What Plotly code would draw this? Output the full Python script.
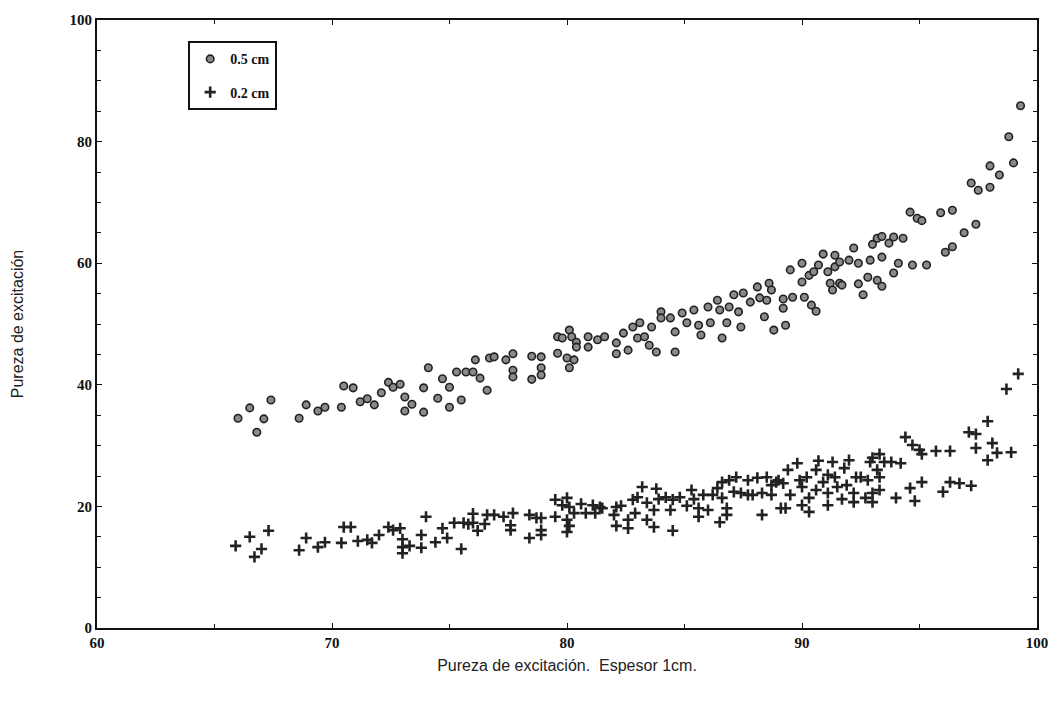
import plotly.graph_objects as go

# 0.5 cm series (circles)
x_05 = [66.0, 66.5, 66.8, 67.1, 67.4, 68.6, 68.9, 69.4, 69.7, 70.4, 70.5, 70.9, 71.2, 71.5, 71.8,
        72.1, 72.4, 72.6, 72.9, 73.1, 73.1, 73.4, 73.9, 73.9, 74.1, 74.5, 74.7, 75.0, 75.0, 75.3,
        75.7, 76.0, 75.5, 76.1, 76.3, 76.6, 76.7, 76.9,
        77.4, 77.7, 77.7, 77.7, 78.5, 78.9, 78.9, 78.9, 78.5, 79.6, 80.0, 80.1, 80.3, 79.6, 79.8,
        80.1, 80.2, 80.4, 80.4, 80.9, 80.9, 81.3, 81.6, 82.1, 82.1, 82.4, 82.6, 82.8, 83.0, 83.1,
        83.3, 83.5, 83.6, 83.8, 84.0, 84.0, 84.4, 84.6, 84.6, 84.9, 85.1, 85.4, 85.6, 85.7, 86.1,
        86.0, 86.4, 86.5, 86.6, 86.8, 86.9, 87.1, 87.3, 87.4, 87.5, 87.8, 88.1, 88.2, 88.4, 88.5,
        88.6, 88.8,
        88.7, 89.3, 89.2, 89.2, 89.6, 90.1, 90.4, 90.6, 89.5, 90.0, 90.0, 90.3, 90.5, 90.7, 90.9,
        91.1, 91.2, 91.3, 91.4, 91.4, 91.6, 91.6, 91.7, 92.0, 92.2, 92.4, 92.4, 92.6, 92.8, 93.2,
        93.4, 92.9, 93.4, 93.0, 93.2, 93.4, 93.7, 93.9, 94.3, 93.9, 94.1, 94.7, 95.3, 94.6, 94.9,
        95.1, 95.9, 96.4, 96.1, 96.4, 96.9, 97.4, 97.2, 97.5, 98.0, 98.0, 98.4, 99.0, 98.8, 99.3]
y_05 = [34.5, 36.2, 32.2, 34.4, 37.5, 34.5, 36.7, 35.7, 36.3, 36.3, 39.8, 39.5, 37.2, 37.7, 36.7,
        38.7, 40.4, 39.6, 40.1, 38.0, 35.7, 36.8, 39.5, 35.5, 42.8, 37.8, 41.0, 39.6, 36.3, 42.1,
        42.1, 42.1, 37.5, 44.1, 41.1, 39.1, 44.4, 44.6,
        44.1, 45.1, 42.4, 41.3, 44.7, 44.6, 42.8, 41.6, 40.9, 45.2, 44.4, 42.8, 44.1, 47.9, 47.7,
        49.0, 47.9, 47.0, 46.2, 47.9, 46.2, 47.4, 47.9, 46.9, 45.1, 48.5, 45.7, 49.5, 47.7, 50.2,
        47.9, 46.5, 49.5, 45.4, 52.0, 51.0, 51.0, 48.7, 45.4, 51.8, 50.2, 52.3, 49.8, 48.2, 50.2,
        52.8, 53.9, 52.3, 47.7, 50.2, 52.8, 54.8, 52.0, 49.5, 55.1, 53.6, 56.1, 54.3, 51.2, 53.9,
        56.7, 49.0,
        55.6, 49.8, 54.1, 52.6, 54.4, 54.4, 53.1, 52.1, 58.9, 60.0, 56.9, 58.0, 58.6, 59.7, 61.5,
        58.6, 56.7, 55.6, 59.4, 61.3, 60.2, 56.7, 56.4, 60.5, 62.5, 60.0, 56.6, 54.8, 57.7, 57.2,
        56.2, 60.5, 61.0, 63.1, 64.1, 64.4, 63.3, 64.3, 64.1, 58.4, 60.0, 59.7, 59.7, 68.4, 67.4,
        67.0, 68.3, 68.7, 61.8, 62.7, 65.0, 66.4, 73.2, 72.0, 72.5, 76.0, 74.5, 76.5, 80.8, 85.9]

# 0.2 cm series (crosses)
x_02 = [65.9, 66.5, 66.7, 67.0, 67.3, 68.6, 68.9, 69.4, 69.7, 70.4, 70.5, 70.8, 71.1, 71.5, 71.7,
        72.0, 72.4, 72.6, 72.9, 73.0, 73.0, 73.0, 73.3, 73.8, 73.8, 74.0, 74.4, 74.7, 74.9, 75.2,
        75.5, 75.6, 75.8, 76.0, 76.0, 76.2, 76.5, 76.6, 76.9,
        77.3, 77.7, 77.6, 77.6, 78.4, 78.7, 78.9, 78.9, 78.9, 78.4, 79.5, 79.5, 79.8, 80.0, 80.1,
        80.0, 80.1, 80.0, 80.3, 80.6, 80.8, 81.1, 81.2, 81.4, 81.5, 82.0, 82.1, 82.3, 82.1, 82.6,
        82.6, 82.8, 83.0, 82.9, 83.2, 83.4, 83.4, 83.7, 83.7, 83.8, 83.9, 84.2, 84.5, 84.4, 84.5,
        84.8, 85.1, 85.3, 85.4, 85.6, 85.6, 85.8, 86.0, 86.2, 86.4, 86.6, 86.6, 86.8, 86.8, 86.5,
        86.9, 87.2, 87.1, 87.4, 87.7, 87.7, 88.1, 87.9, 88.3, 88.5, 88.3, 88.7, 88.9, 89.1, 89.3,
        89.2, 89.4, 89.5, 89.8,
        88.7, 89.0, 89.9, 90.0, 90.0, 90.2, 90.3, 90.3, 90.6, 90.6, 90.7, 90.9, 91.1, 91.1, 91.1,
        91.3, 91.4, 91.5, 91.7, 91.8, 91.9, 92.0, 92.2, 92.2, 92.3, 92.5, 92.7, 92.8, 92.9, 93.0,
        93.0, 93.0, 93.2, 93.3, 93.3, 93.3, 93.5, 93.8, 94.2, 94.0, 94.4, 94.7, 95.0, 95.1, 94.6,
        94.8, 95.1, 95.7, 96.3, 96.0, 96.3, 96.7, 97.2, 97.1, 97.4, 97.4, 97.9, 98.1, 97.9, 98.3,
        98.9, 98.7, 99.2]
y_02 = [13.5, 15.0, 11.7, 13.0, 16.0, 12.8, 14.8, 13.3, 14.1, 14.0, 16.6, 16.6, 14.3, 14.5, 14.0,
        15.3, 16.6, 16.1, 16.4, 14.6, 13.3, 12.3, 13.5, 15.3, 13.2, 18.3, 14.1, 16.4, 14.8, 17.3,
        13.0, 17.3, 17.1, 18.8, 17.3, 16.0, 17.1, 18.6, 18.6,
        18.3, 18.9, 16.9, 16.1, 18.6, 18.1, 18.1, 16.1, 15.3, 14.8, 21.1, 18.3, 20.2, 21.4, 19.9,
        17.8, 16.8, 15.8, 18.9, 20.4, 18.9, 20.2, 18.9, 19.9, 19.7, 18.6, 19.9, 20.1, 16.8, 17.8,
        16.4, 21.1, 21.5, 18.9, 23.2, 20.6, 17.8, 19.4, 16.6, 22.9, 21.2, 21.5, 21.1, 19.4, 16.0,
        21.5, 20.1, 22.7, 21.2, 19.7, 18.3, 21.9, 19.4, 21.9, 23.0, 21.4, 24.0, 19.7, 18.6, 17.4,
        24.3, 24.8, 22.4, 22.2, 21.9, 24.3, 24.7, 21.9, 18.6, 24.8, 22.2, 21.9, 24.0, 19.7, 19.7,
        23.8, 26.0, 21.9, 27.1,
        23.5, 24.3, 24.3, 23.2, 20.2, 24.8, 21.4, 19.1, 26.0, 22.7, 27.5, 24.0, 25.2, 20.2, 22.2,
        27.3, 24.8, 23.2, 21.2, 26.3, 23.5, 27.6, 22.2, 20.7, 24.8, 24.8, 21.4, 24.3, 27.3, 22.2,
        28.0, 20.7, 26.0, 24.8, 22.7, 28.6, 27.3, 27.3, 27.1, 21.4, 31.4, 30.1, 29.3, 28.6, 23.0,
        20.9, 24.0, 29.1, 29.1, 22.4, 24.0, 23.8, 23.4, 32.2, 31.9, 29.6, 34.0, 30.4, 27.6, 28.8,
        28.9, 39.3, 41.8]

tick_font = dict(family="Liberation Serif", size=15, color="#111", weight="bold")
title_font = dict(family="Liberation Sans", size=16, color="#222")

fig = go.Figure()
fig.add_trace(go.Scatter(
    x=x_05, y=y_05, mode="markers", name="0.5 cm", legendgroup="a",
    marker=dict(symbol="circle", size=7.5, color="#8a8a8a",
                line=dict(color="#222", width=1.6)),
))
fig.add_trace(go.Scatter(
    x=x_02, y=y_02, mode="markers", name="0.2 cm", legendgroup="b",
    marker=dict(symbol="cross-thin", size=8, color="#222",
                line=dict(color="#222", width=2.6)),
))

fig.update_layout(
    width=1056, height=704,
    margin=dict(l=97, r=19, t=20, b=76, autoexpand=False),
    paper_bgcolor="white", plot_bgcolor="white",
    showlegend=True,
    legend=dict(
        x=0.097, y=0.965, xanchor="left", yanchor="top",
        bordercolor="#111", borderwidth=2, bgcolor="white",
        font=dict(family="Liberation Serif", size=14, color="#111", weight="bold"),
        tracegroupgap=12, itemwidth=30,
    ),
)
fig.update_xaxes(
    range=[60, 100], tick0=60, dtick=10, automargin=False,
    showgrid=False, zeroline=False,
    showline=True, linecolor="#111", linewidth=2, mirror="allticks",
    ticks="inside", ticklen=5, tickcolor="#111",
    minor=dict(dtick=5, ticks="inside", ticklen=4, tickcolor="#111"),
    tickfont=tick_font,
    title=dict(text="Pureza de excitación.  Espesor 1cm.", font=title_font, standoff=10),
)
fig.update_yaxes(
    range=[0, 100], tick0=0, dtick=20, automargin=False,
    showgrid=False, zeroline=False,
    showline=True, linecolor="#111", linewidth=2, mirror="allticks",
    ticks="inside", ticklen=5, tickcolor="#111",
    minor=dict(dtick=5, ticks="inside", ticklen=4, tickcolor="#111"),
    tickfont=tick_font,
    title=dict(text="Pureza de excitación", font=title_font, standoff=42),
)

# drop the default 8px page margin so the figure sits at the window's corner
fig.write_html("out.html", config={"displayModeBar": False},
               post_script="document.body.style.margin='0';")
